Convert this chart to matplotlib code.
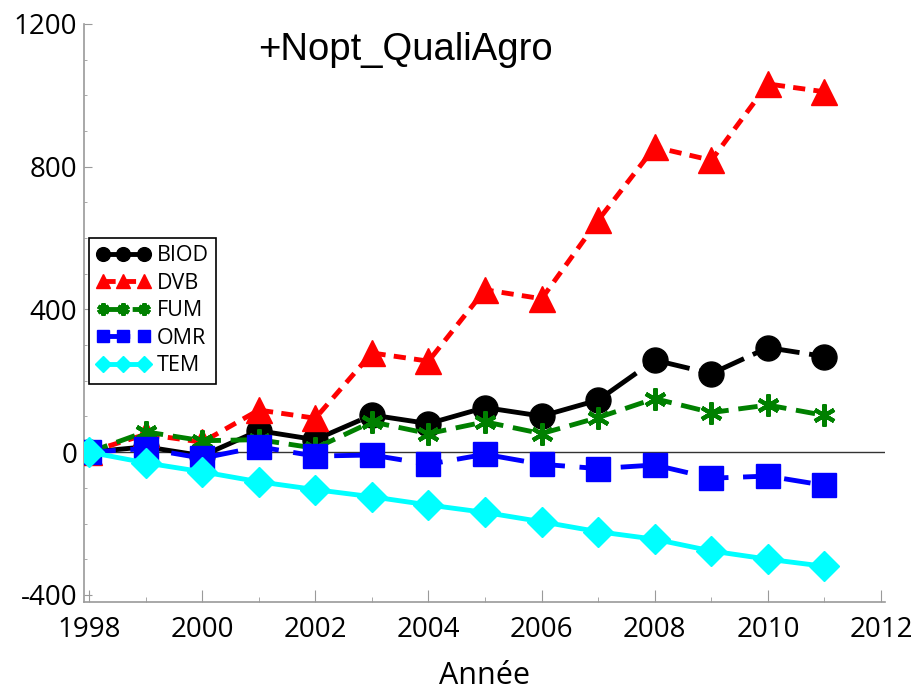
import numpy as np
import matplotlib
matplotlib.use("Agg")
import matplotlib.pyplot as plt
from matplotlib.ticker import MultipleLocator

# data
years = list(range(1998, 2012))
biod = [0, 15, -10, 60, 35, 104, 80, 125, 101, 146, 258, 220, 293, 268]
dvb = [0, 50, 28, 118, 95, 278, 255, 455, 430, 650, 855, 818, 1032, 1010]
fum = [0, 57, 32, 35, 11, 85, 52, 85, 52, 97, 150, 111, 132, 103]
omr = [0, 10, -17, 15, -11, -8, -34, -6, -34, -46, -36, -73, -67, -93]
tem = [0, -30, -55, -83, -105, -125, -148, -169, -195, -223, -244, -277, -300, -320]

series_names = ["BIOD", "DVB", "FUM", "OMR", "TEM"]
xticks = [1998, 2000, 2002, 2004, 2006, 2008, 2010, 2012]
yticks = [-400, 0, 400, 800, 1200]

plt.rcParams["font.family"] = ["Open Sans", "DejaVu Sans"]
plt.rcParams["axes.unicode_minus"] = False

fig = plt.figure(figsize=(9.2, 6.92), dpi=100)
ax = fig.add_axes([84 / 920, 1 - 602 / 692, (885 - 84) / 920, (602 - 24) / 692])

ax.axhline(0, color="#333333", lw=1, zorder=1)

# styles: colour, marker, markersize, dash pattern
styles = {
    "BIOD": dict(color="black", marker="o", ms=18, dashes=(10, 2)),
    "DVB": dict(color="red", marker="^", ms=19, dashes=(2.5, 1.7)),
    "FUM": dict(color="green", marker=(6, 2, 0), ms=16, mew=3, dashes=(4, 2)),
    "OMR": dict(color="blue", marker="s", ms=17, dashes=(5.5, 3)),
    "TEM": dict(color="cyan", marker="D", ms=15, linestyle="-"),
}
values = [biod, dvb, fum, omr, tem]

for name, vals in zip(series_names, values):
    st = styles[name]
    kw = dict(color=st["color"], marker=st["marker"], markersize=st["ms"],
              lw=3.5, label=name, zorder=3)
    if "dashes" in st:
        kw["dashes"] = st["dashes"]
    if "mew" in st:
        kw["markeredgewidth"] = st["mew"]
    ax.plot(years, vals, **kw)

ax.set_xlim(1997.91, 2012.07)
ax.set_ylim(-420, 1200)
ax.set_xticks(xticks)
ax.set_yticks(yticks)
ax.xaxis.set_minor_locator(MultipleLocator(1))
ax.yaxis.set_minor_locator(MultipleLocator(100))

for s in ["top", "right"]:
    ax.spines[s].set_visible(False)
for s in ["left", "bottom"]:
    ax.spines[s].set_color("#9a9a9a")
    ax.spines[s].set_linewidth(1.2)

ax.tick_params(axis="x", which="major", direction="in", length=9, color="#9a9a9a",
               labelsize=20, pad=10)
ax.tick_params(axis="x", which="minor", direction="in", length=3.5, color="#9a9a9a")
ax.tick_params(axis="y", which="major", direction="in", length=6, color="#9a9a9a",
               labelsize=20, pad=5)
ax.tick_params(axis="y", which="minor", direction="in", length=2.5, color="#9a9a9a")

ax.set_xlabel("Année", fontsize=22, labelpad=12)

ax.text(0.217, 0.955, "+Nopt_QualiAgro", transform=ax.transAxes, fontsize=27.5,
        family=["Liberation Sans Narrow", "Liberation Sans", "DejaVu Sans"],
        va="center", ha="left")

leg = ax.legend(loc="upper left", bbox_to_anchor=(0.006, 0.63), numpoints=3,
                fontsize=15.5, handlelength=2.5, handletextpad=0.3,
                labelspacing=0.3, borderpad=0.35, borderaxespad=0, fancybox=False,
                framealpha=1, edgecolor="black", markerscale=0.55)
leg.get_frame().set_linewidth(1.2)

fig.savefig("out.png", dpi=100)
